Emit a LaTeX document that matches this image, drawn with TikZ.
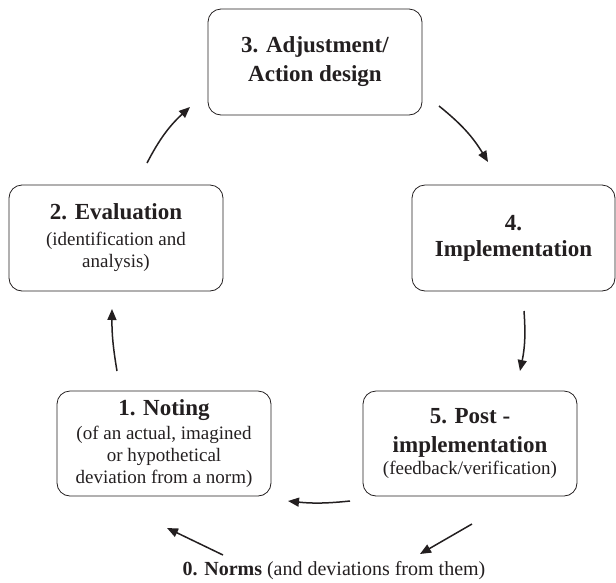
\documentclass[tikz,border=0pt]{standalone}
\usepackage{fontspec}
\setmainfont{Liberation Serif}
\usepackage{tikz}
\usepackage{xcolor}
\usetikzlibrary{arrows.meta,calc}
\definecolor{ink}{RGB}{35, 31, 32}
\newcommand{\steptitle}[1]{{\fontsize{23}{27}\selectfont\bfseries #1}}
\tikzstyle{arrow} = [
    line width=1.5pt,
    -{Triangle[length=11pt,width=9pt]},
    draw=ink
]
\tikzstyle{stage} = [
    rectangle,
    rounded corners=13pt,
    minimum width=214pt,
    minimum height=106pt,
    inner sep=2pt,
    align=center,
    draw=ink,
    line width=0.8pt,
    text=ink,
    font=\fontsize{19}{22}\selectfont
]

\begin{document}
\begin{tikzpicture}[x=1pt, y=-1pt]
    \useasboundingbox (0,0) rectangle (616,582);
    \node[stage] (n3) at (315,62) {\steptitle{3. Adjustment/}\\[7pt]\steptitle{Action design}};
    \node[stage] (n2) at (116,238) {\steptitle{2. Evaluation}\\[4pt](identification and\\analysis)};
    \node[stage, minimum width=203pt] (n4) at (513.5,238) {\steptitle{4.}\\[4pt]\steptitle{Implementation}};
    \node[stage, minimum height=105pt] (n1) at (164,443.5) {\steptitle{1. Noting}\\[2pt](of an actual, imagined\\or hypothetical\\deviation from a norm)};
    \node[stage, minimum height=105pt] (n5) at (470,443.5) {\steptitle{5. Post -}\\[7pt]\steptitle{implementation}\\(feedback/verification)};
    \node[text=ink, font=\fontsize{20}{22}\selectfont] (n0) at (334,571) {\textbf{0. Norms} (and deviations from them)};

    % cycle
    \draw[arrow] ($(n2)+(31,-75)$) to[bend left=10] ($(n3)+(-125,45)$);
    \draw[arrow] ($(n3)+(124,44)$) to[bend left=10] ($(n4)+(-25.5,-76)$);
    \draw[arrow] ($(n4)+(10.5,73)$) to[bend left=8] ($(n5)+(50,-72.5)$);
    \draw[arrow] ($(n5)+(-120,57.5)$) to[bend left=6] ($(n1)+(124,57.5)$);
    \draw[arrow] ($(n1)+(-47,-72.5)$) to[bend left=5] ($(n2)+(-4,71)$);
    % norms
    \draw[arrow] ($(n0)+(-111,-16)$) -- ($(n1)+(3,84.5)$);
    \draw[arrow] ($(n5)+(2,80.5)$) -- ($(n0)+(86,-17)$);
\end{tikzpicture}
\end{document}
